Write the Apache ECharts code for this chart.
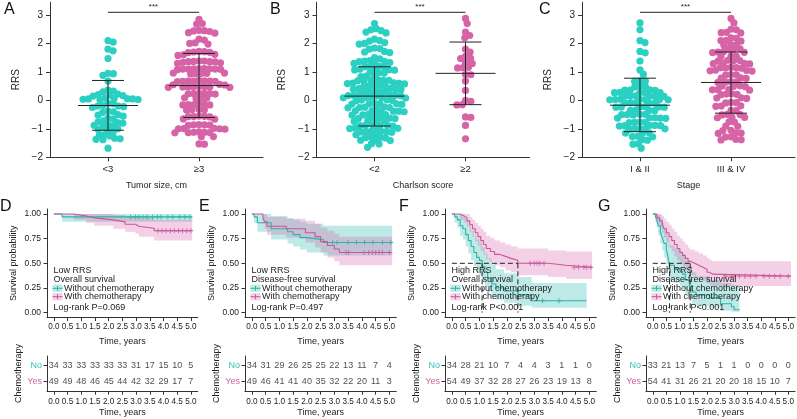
<!DOCTYPE html>
<html><head><meta charset="utf-8">
<script src="https://cdn.jsdelivr.net/npm/echarts@6/dist/echarts.min.js"></script>
<style>html,body{margin:0;padding:0;background:#fff}#c{width:797px;height:419px}</style>
</head><body><div id="c"></div>
<script>
// ================= DATA =================
const rrsTicks = [-2, -1, 0, 1, 2, 3];
const catA = ['<3', '\u22653'];
const catB = ['<2', '\u22652'];
const catC = ['I & II', 'III & IV'];

const A_lt3 = [2.1, 2.05, 1.8, 1.74, 1.47, 0.95, 0.94, 0.88, 0.68, 0.36, 0.33, 0.3, 0.22, 0.2, 0.18, 0.17, 0.15, 0.08, 0.07, 0.06, 0.05, 0.04, 0.03, 0.02, 0.05, -0.1, -0.12, -0.18, -0.2, -0.22, -0.2, -0.25, -0.38, -0.4, -0.42, -0.52, -0.55, -0.5, -0.62, -0.66, -0.72, -0.75, -0.78, -0.8, -0.86, -0.9, -0.92, -0.88, -1.0, -1.05, -1.02, -1.1, -1.2, -1.22, -1.25, -1.35, -1.38, -1.37, -1.33, -1.68];
const A_ge3 = [2.85, 2.7, 2.68, 2.46, 2.45, 2.42, 2.44, 2.38, 2.36, 2.15, 2.12, 2.0, 1.98, 2.02, 1.72, 1.7, 1.68, 1.71, 1.69, 1.58, 1.6, 1.62, 1.38, 1.37, 1.36, 1.35, 1.38, 1.34, 1.36, 1.3, 1.32, 1.12, 1.1, 1.11, 1.09, 1.1, 1.12, 1.08, 1.1, 1.11, 0.96, 0.95, 0.94, 0.95, 0.93, 0.96, 0.68, 0.67, 0.69, 0.66, 0.68, 0.67, 0.7, 0.68, 0.56, 0.55, 0.54, 0.48, 0.47, 0.46, 0.48, 0.47, 0.49, 0.46, 0.47, 0.25, 0.24, 0.23, 0.25, 0.22, 0.24, 0.08, 0.07, 0.09, 0.08, -0.15, -0.14, -0.16, -0.15, -0.13, -0.16, -0.33, -0.32, -0.34, -0.33, -0.57, -0.56, -0.58, -0.57, -0.55, -0.66, -0.65, -0.86, -0.85, -0.87, -0.86, -0.88, -1.0, -0.99, -1.01, -1.0, -0.98, -1.13, -1.12, -1.14, -1.13, -1.11, -1.12, -1.27, -1.28, -1.53, -1.54];
const A_mean = [-0.18, 0.52];
const A_lo = [-1.05, -0.6];
const A_hi = [0.7, 1.65];

const B_lt2 = [2.7, 2.52, 2.48, 2.45, 2.4, 2.37, 2.15, 2.1, 2.08, 2.03, 2.0, 1.98, 1.84, 1.82, 1.8, 1.72, 1.7, 1.68, 1.5, 1.46, 1.4, 1.38, 1.37, 1.36, 1.33, 1.31, 1.3, 1.2, 1.18, 1.17, 1.2, 1.1, 1.08, 1.07, 1.06, 1.09, 0.99, 0.97, 0.96, 0.86, 0.85, 0.84, 0.72, 0.7, 0.69, 0.71, 0.68, 0.7, 0.62, 0.6, 0.59, 0.61, 0.58, 0.52, 0.5, 0.49, 0.51, 0.48, 0.42, 0.4, 0.39, 0.41, 0.38, 0.32, 0.3, 0.29, 0.31, 0.28, 0.2, 0.18, 0.17, 0.19, 0.16, 0.15, 0.18, 0.1, 0.09, 0.11, 0.08, 0.1, 0.01, 0.0, -0.01, 0.02, -0.11, -0.12, -0.13, -0.1, -0.14, -0.12, -0.24, -0.25, -0.26, -0.23, -0.27, -0.25, -0.37, -0.38, -0.39, -0.36, -0.4, -0.38, -0.5, -0.49, -0.51, -0.48, -0.52, -0.62, -0.61, -0.63, -0.6, -0.64, -0.72, -0.71, -0.73, -0.74, -0.88, -0.87, -0.89, -0.86, -0.9, -0.88, -0.98, -0.97, -0.99, -1.0, -1.1, -1.09, -1.11, -1.08, -1.12, -1.1, -1.2, -1.21, -1.3, -1.29, -1.31, -1.32, -1.4, -1.39, -1.41, -1.52, -1.53, -1.65];
const B_ge2 = [2.88, 2.7, 2.4, 2.28, 2.2, 1.8, 1.7, 1.55, 1.48, 1.47, 1.32, 1.3, 1.16, 1.15, 1.14, 0.91, 0.9, 0.68, 0.35, 0.0, -0.03, -0.16, -0.15, -0.6, -0.58, -0.88, -1.35];
const B_mean = [0.15, 0.95];
const B_lo = [-0.9, -0.15];
const B_hi = [1.18, 2.05];

const C_12 = [2.72, 2.48, 2.1, 2.03, 1.72, 1.67, 1.38, 1.07, 0.92, 0.69, 0.68, 0.67, 0.49, 0.48, 0.47, 0.37, 0.36, 0.35, 0.36, 0.28, 0.27, 0.26, 0.27, 0.28, 0.16, 0.15, 0.14, 0.15, 0.16, 0.14, 0.04, 0.03, 0.02, 0.03, 0.04, 0.02, 0.03, -0.08, -0.09, -0.1, -0.09, -0.08, -0.22, -0.23, -0.24, -0.23, -0.22, -0.24, -0.34, -0.35, -0.36, -0.35, -0.49, -0.5, -0.51, -0.5, -0.49, -0.61, -0.62, -0.63, -0.62, -0.61, -0.76, -0.77, -0.78, -0.77, -0.88, -0.89, -0.9, -0.89, -0.88, -0.99, -1.0, -1.01, -1.0, -0.99, -1.14, -1.15, -1.16, -1.26, -1.27, -1.28, -1.38, -1.4, -1.52, -1.54, -1.68];
const C_34 = [2.88, 2.72, 2.5, 2.48, 2.38, 2.37, 2.39, 2.2, 2.18, 2.1, 2.08, 2.11, 1.95, 1.94, 1.96, 1.8, 1.79, 1.81, 1.7, 1.69, 1.71, 1.68, 1.55, 1.54, 1.56, 1.4, 1.39, 1.41, 1.38, 1.3, 1.29, 1.31, 1.28, 1.15, 1.14, 1.16, 1.13, 1.15, 1.05, 1.04, 1.06, 1.03, 0.9, 0.89, 0.91, 0.78, 0.77, 0.79, 0.65, 0.64, 0.66, 0.63, 0.5, 0.49, 0.51, 0.48, 0.38, 0.37, 0.39, 0.36, 0.22, 0.21, 0.23, 0.2, 0.08, 0.07, 0.09, -0.08, -0.07, -0.09, -0.2, -0.21, -0.19, -0.35, -0.36, -0.5, -0.49, -0.51, -0.6, -0.61, -0.59, -0.75, -0.76, -0.9, -0.91, -1.05, -1.06, -1.15, -1.14, -1.16, -1.28, -1.29, -1.38, -1.37, -1.39];
const C_mean = [-0.17, 0.63];
const C_lo = [-1.1, -0.45];
const C_hi = [0.78, 1.7];

// Kaplan-Meier tick labels
const kmTicks = [0, 0.5, 1, 1.5, 2, 2.5, 3, 3.5, 4, 4.5, 5];
const survTicks = [0, 0.25, 0.5, 0.75, 1];

// D: Low RRS, overall survival
const D_no_T = [0, 0.3];
const D_no_S = [1, 0.97];
const D_no_L = [1, 0.92];
const D_no_U = [1, 1];
const D_no_end = 5.05;
const D_no_cens = [2.8, 2.98, 3.1, 3.25, 3.41, 3.6, 3.78, 3.91, 4.16, 4.34, 4.59, 4.78, 4.96];
const D_yes_T = [0, 0.72, 1.18, 1.48, 2.17, 2.6, 2.98, 3.1, 3.66];
const D_yes_S = [1, 0.98, 0.96, 0.94, 0.92, 0.895, 0.875, 0.855, 0.83];
const D_yes_L = [1, 0.94, 0.91, 0.88, 0.85, 0.82, 0.8, 0.77, 0.73];
const D_yes_U = [1, 1, 1, 1, 0.99, 0.98, 0.97, 0.96, 0.94];
const D_yes_end = 5.05;
const D_yes_cens = [3.8, 3.95, 4.1, 4.25, 4.4, 4.55, 4.7, 4.85, 5.0];
const D_risk_no = [34, 33, 33, 33, 33, 33, 31, 17, 15, 10, 5];
const D_risk_yes = [49, 49, 48, 46, 45, 44, 42, 32, 29, 17, 7];

// E: Low RRS, disease-free survival
const E_no_T = [0, 0.08, 0.2, 0.7, 1.3, 1.5, 1.75, 2.0, 2.6];
const E_no_S = [1, 0.97, 0.91, 0.85, 0.82, 0.79, 0.76, 0.74, 0.71];
const E_no_L = [1, 0.91, 0.82, 0.74, 0.7, 0.67, 0.64, 0.61, 0.58];
const E_no_U = [1, 1, 1, 0.98, 0.96, 0.94, 0.92, 0.9, 0.88];
const E_no_end = 5.1;
const E_no_cens = [2.94, 3.1, 3.5, 3.8, 4.1, 4.4, 4.75, 5.05];
const E_yes_T = [0, 0.4, 0.47, 0.55, 1.25, 1.95, 2.3, 2.5, 2.75, 3.0, 3.18];
const E_yes_S = [1, 0.96, 0.92, 0.875, 0.85, 0.81, 0.77, 0.72, 0.68, 0.645, 0.61];
const E_yes_L = [1, 0.9, 0.85, 0.79, 0.76, 0.71, 0.66, 0.61, 0.56, 0.52, 0.48];
const E_yes_U = [1, 1, 1, 0.97, 0.95, 0.93, 0.9, 0.86, 0.83, 0.8, 0.77];
const E_yes_end = 5.1;
const E_yes_cens = [3.42, 3.52, 4.08, 4.25, 4.38, 4.5, 4.62, 4.75, 5.0];
const E_risk_no = [34, 31, 29, 26, 25, 25, 22, 13, 11, 7, 4];
const E_risk_yes = [49, 46, 41, 41, 40, 35, 32, 22, 20, 11, 3];

// F: High RRS, overall survival
const F_no_T = [0, 0.1, 0.2, 0.3, 0.4, 0.5, 0.6, 0.7, 0.8, 0.9, 1.0, 1.1, 1.2, 1.3, 1.45, 1.6, 1.9, 2.4, 2.9];
const F_no_S = [1, 0.97, 0.94, 0.88, 0.85, 0.79, 0.73, 0.67, 0.61, 0.56, 0.53, 0.47, 0.41, 0.35, 0.29, 0.25, 0.22, 0.18, 0.12];
const F_no_L = [1, 0.91, 0.86, 0.78, 0.74, 0.67, 0.6, 0.53, 0.47, 0.41, 0.38, 0.32, 0.26, 0.21, 0.16, 0.13, 0.1, 0.07, 0.05];
const F_no_U = [1, 1, 1, 0.99, 0.97, 0.93, 0.88, 0.83, 0.78, 0.74, 0.71, 0.66, 0.6, 0.55, 0.49, 0.44, 0.4, 0.36, 0.3];
const F_no_end = 4.9;
const F_no_cens = [3.3, 3.9];
const F_yes_T = [0, 0.3, 0.45, 0.55, 0.65, 0.75, 0.85, 0.95, 1.05, 1.15, 1.25, 1.4, 1.55, 1.75, 1.95, 2.15, 2.4, 3.5, 4.15];
const F_yes_S = [1, 0.98, 0.96, 0.93, 0.89, 0.85, 0.81, 0.77, 0.73, 0.69, 0.65, 0.62, 0.59, 0.57, 0.55, 0.53, 0.5, 0.48, 0.46];
const F_yes_L = [1, 0.94, 0.91, 0.87, 0.82, 0.77, 0.72, 0.68, 0.63, 0.59, 0.54, 0.51, 0.48, 0.46, 0.43, 0.41, 0.38, 0.36, 0.34];
const F_yes_U = [1, 1, 1, 1, 0.97, 0.94, 0.91, 0.88, 0.85, 0.82, 0.78, 0.76, 0.73, 0.71, 0.69, 0.67, 0.65, 0.63, 0.62];
const F_yes_end = 5.1;
const F_yes_cens = [2.85, 3.0, 3.1, 3.2, 3.35, 4.45, 4.6, 4.8, 4.9, 5.05];
const F_risk_no = [34, 28, 21, 10, 7, 4, 4, 3, 1, 1, 0];
const F_risk_yes = [54, 49, 37, 32, 28, 27, 26, 23, 19, 13, 8];

// G: High RRS, disease-free survival
const G_no_T = [0, 0.1, 0.15, 0.2, 0.28, 0.35, 0.42, 0.5, 0.55, 0.62, 0.8, 1.0, 1.1, 1.2, 1.35, 1.45, 1.6, 2.1, 2.5, 2.9, 3.0];
const G_no_S = [1, 0.97, 0.94, 0.88, 0.82, 0.76, 0.7, 0.64, 0.58, 0.48, 0.45, 0.42, 0.39, 0.33, 0.27, 0.21, 0.18, 0.15, 0.09, 0.06, 0.03];
const G_no_L = [1, 0.91, 0.86, 0.78, 0.7, 0.63, 0.56, 0.49, 0.43, 0.33, 0.3, 0.27, 0.24, 0.19, 0.14, 0.09, 0.07, 0.05, 0.02, 0.01, 0.01];
const G_no_U = [1, 1, 1, 0.99, 0.96, 0.91, 0.86, 0.81, 0.76, 0.68, 0.65, 0.62, 0.59, 0.53, 0.47, 0.41, 0.37, 0.33, 0.3, 0.28, 0.28];
const G_no_end = 3.2;
const G_no_cens = [];
const G_yes_T = [0, 0.15, 0.25, 0.35, 0.42, 0.5, 0.6, 0.7, 0.8, 0.9, 1.0, 1.1, 1.2, 1.3, 1.38, 1.55, 1.7, 1.85, 2.0, 2.1, 2.2];
const G_yes_S = [1, 0.96, 0.93, 0.89, 0.85, 0.81, 0.77, 0.73, 0.69, 0.65, 0.61, 0.58, 0.55, 0.52, 0.5, 0.48, 0.46, 0.44, 0.41, 0.39, 0.37];
const G_yes_L = [1, 0.9, 0.86, 0.81, 0.76, 0.71, 0.66, 0.62, 0.57, 0.53, 0.49, 0.46, 0.43, 0.4, 0.38, 0.36, 0.34, 0.32, 0.3, 0.28, 0.27];
const G_yes_U = [1, 1, 1, 0.98, 0.95, 0.92, 0.89, 0.85, 0.82, 0.78, 0.75, 0.72, 0.69, 0.66, 0.64, 0.62, 0.6, 0.58, 0.55, 0.53, 0.52];
const G_yes_end = 5.1;
const G_yes_cens = [2.7, 2.9, 3.0, 3.2, 3.4, 3.6, 3.8, 4.1, 4.3, 4.5, 4.7, 5.0];
const G_risk_no = [33, 21, 13, 7, 5, 1, 1, 0, 0, 0, 0];
const G_risk_yes = [54, 41, 31, 26, 21, 20, 20, 18, 15, 10, 7];

// ================= STYLE =================
const FONT = 'Liberation Sans, Arial, Helvetica, sans-serif';
const TX = '#222', AX = '#333';
const TEAL_DOT = '#2ad0c2', PINK_DOT = '#d763a7';
const TEAL_LINE = '#2bb3a8', PINK_LINE = '#c8579b';
const TEAL_FILL = 'rgba(50,190,180,0.32)', PINK_FILL = 'rgba(214,100,168,0.30)';
const TEAL_TXT = '#35c4b7', PINK_TXT = '#d262a5';

// ================= HELPERS =================
function swarmOffsets(vals, pxY, d) {
  const idx = vals.map((v, i) => i).sort((a, b) => vals[b] - vals[a]);
  const placed = []; const off = new Array(vals.length).fill(0);
  for (const i of idx) {
    const y = vals[i] * pxY;
    const near = placed.filter(p => Math.abs(p.y - y) < d);
    const cands = [0];
    near.forEach(p => { const dx = Math.sqrt(d * d - (p.y - y) ** 2); cands.push(p.x + dx, p.x - dx); });
    cands.sort((a, b) => Math.abs(a) - Math.abs(b));
    let best = 0;
    for (const c of cands) {
      if (near.every(p => (c - p.x) ** 2 + (p.y - y) ** 2 >= d * d - 0.01)) { best = c; break; }
    }
    placed.push({ x: best, y }); off[i] = best;
  }
  return off;
}
function survAt(T, S, t) { let v = S[0]; for (let i = 0; i < T.length; i++) if (T[i] <= t) v = S[i]; return v; }
function medianOf(T, S) { for (let i = 0; i < T.length; i++) if (S[i] <= 0.5) return T[i]; return null; }

const option = {
  animation: false, backgroundColor: '#fff',
  textStyle: { fontFamily: FONT },
  grid: [], xAxis: [], yAxis: [], series: [], graphic: []
};
function axisCommon() {
  return {
    axisLine: { show: true, onZero: false, lineStyle: { color: AX, width: 1 } },
    splitLine: { show: false }
  };
}

// ================= TOP PANELS =================
const topPanels = [
  { left: 50, letter: 'A', lx: 4, cats: catA, g1: A_lt3, g2: A_ge3, mean: A_mean, lo: A_lo, hi: A_hi, xname: 'Tumor size, cm' },
  { left: 316.5, letter: 'B', lx: 270, cats: catB, g1: B_lt2, g2: B_ge2, mean: B_mean, lo: B_lo, hi: B_hi, xname: 'Charlson score' },
  { left: 582, letter: 'C', lx: 539, cats: catC, g1: C_12, g2: C_34, mean: C_mean, lo: C_lo, hi: C_hi, xname: 'Stage' }
];
const TOP = 2.2, TH = 155.1, TW = 213, XMIN = 0.363, XMAX = 2.703, YMIN = -2, YMAX = 3.45;
const pxY = TH / (YMAX - YMIN), pxX = TW / (XMAX - XMIN);

topPanels.forEach((p, i) => {
  option.grid.push({ left: p.left, top: TOP, width: TW, height: TH });
  option.xAxis.push(Object.assign(axisCommon(), {
    gridIndex: i, type: 'value', min: XMIN, max: XMAX,
    axisTick: { show: true, customValues: [1, 2], length: 4, lineStyle: { color: AX } },
    axisLabel: { customValues: [1, 2], formatter: v => p.cats[Math.round(v) - 1], fontSize: 9.5, color: TX, margin: 7 },
    name: p.xname, nameLocation: 'middle', nameGap: 24, nameTextStyle: { fontSize: 9, color: TX }
  }));
  option.yAxis.push(Object.assign(axisCommon(), {
    gridIndex: i, type: 'value', min: YMIN, max: YMAX,
    axisTick: { show: true, customValues: rrsTicks, length: 4, lineStyle: { color: AX } },
    axisLabel: { customValues: rrsTicks, formatter: v => (v < 0 ? '\u2212' : '') + Math.abs(v), fontSize: 10, color: TX, margin: 7 },
    name: 'RRS', nameLocation: 'middle', nameGap: 29, nameTextStyle: { fontSize: 10, color: TX }
  }));
  [p.g1, p.g2].forEach((vals, k) => {
    const off = swarmOffsets(vals, pxY, 5.4);
    option.series.push({
      type: 'scatter', xAxisIndex: i, yAxisIndex: i, symbolSize: 7.2, silent: true, z: 2,
      itemStyle: { color: k ? PINK_DOT : TEAL_DOT, opacity: 1 },
      data: vals.map((v, j) => [k + 1 + off[j] / pxX, v])
    });
  });
  option.series.push({
    type: 'custom', xAxisIndex: i, yAxisIndex: i, z: 5, silent: true,
    data: [0, 1].map(k => [k + 1, p.mean[k], p.lo[k], p.hi[k]]),
    renderItem: (params, api) => {
      const x = api.value(0);
      const pm = api.coord([x, api.value(1)]), pl = api.coord([x, api.value(2)]), ph = api.coord([x, api.value(3)]);
      const st = { stroke: '#222', lineWidth: 1 };
      return { type: 'group', children: [
        { type: 'line', shape: { x1: pm[0] - 30, y1: pm[1], x2: pm[0] + 30, y2: pm[1] }, style: st },
        { type: 'line', shape: { x1: pl[0], y1: pl[1], x2: ph[0], y2: ph[1] }, style: st },
        { type: 'line', shape: { x1: pl[0] - 16, y1: pl[1], x2: pl[0] + 16, y2: pl[1] }, style: st },
        { type: 'line', shape: { x1: ph[0] - 16, y1: ph[1], x2: ph[0] + 16, y2: ph[1] }, style: st }
      ] };
    }
  });
  option.series.push({
    type: 'custom', xAxisIndex: i, yAxisIndex: i, z: 5, silent: true,
    data: [[1, 2]],
    renderItem: (params, api) => {
      const a = api.coord([api.value(0), 3.095]), b = api.coord([api.value(1), 3.095]);
      return { type: 'group', children: [
        { type: 'line', shape: { x1: a[0], y1: a[1], x2: b[0], y2: b[1] }, style: { stroke: '#222', lineWidth: 1 } },
        { type: 'text', x: (a[0] + b[0]) / 2, y: a[1] - 2, style: { text: '***', textAlign: 'center', textVerticalAlign: 'bottom', fontSize: 8, fill: '#222', fontFamily: FONT } }
      ] };
    }
  });
  option.graphic.push({ type: 'text', x: p.lx, y: 2, style: { text: p.letter, fontSize: 16, fontFamily: FONT, fill: '#111', textAlign: 'left', textVerticalAlign: 'top' } });
});

// ================= KM PANELS =================
const kmPanels = [
  { letter: 'D', lx: 0, left: 47, unit: 27.4, t1: 'Low RRS', t2: 'Overall survival', pv: 'Log-rank P=0.069',
    no: [D_no_T, D_no_S, D_no_L, D_no_U, D_no_end, D_no_cens], yes: [D_yes_T, D_yes_S, D_yes_L, D_yes_U, D_yes_end, D_yes_cens],
    rNo: D_risk_no, rYes: D_risk_yes, med: false },
  { letter: 'E', lx: 199, left: 245, unit: 27.5, t1: 'Low RRS', t2: 'Disease-free survival', pv: 'Log-rank P=0.497',
    no: [E_no_T, E_no_S, E_no_L, E_no_U, E_no_end, E_no_cens], yes: [E_yes_T, E_yes_S, E_yes_L, E_yes_U, E_yes_end, E_yes_cens],
    rNo: E_risk_no, rYes: E_risk_yes, med: false },
  { letter: 'F', lx: 399, left: 445, unit: 27.5, t1: 'High RRS', t2: 'Overall survival', pv: 'Log-rank P<0.001',
    no: [F_no_T, F_no_S, F_no_L, F_no_U, F_no_end, F_no_cens], yes: [F_yes_T, F_yes_S, F_yes_L, F_yes_U, F_yes_end, F_yes_cens],
    rNo: F_risk_no, rYes: F_risk_yes, med: true },
  { letter: 'G', lx: 598, left: 646, unit: 27.5, t1: 'High RRS', t2: 'Disease-free survival', pv: 'Log-rank P<0.001',
    no: [G_no_T, G_no_S, G_no_L, G_no_U, G_no_end, G_no_cens], yes: [G_yes_T, G_yes_S, G_yes_L, G_yes_U, G_yes_end, G_yes_cens],
    rNo: G_risk_no, rYes: G_risk_yes, med: true }
];
const KTOP = 209, KH = 108.6, RTOP = 356, RH = 35.2, FS = 9, TFS = 8.2;
const plusSym = 'path://M4,0h2v10h-2z M0,4h10v2h-10z';

kmPanels.forEach((p, j) => {
  const gi = 3 + j, ri = 7 + j;
  const W = 5.5 * p.unit;
  option.grid[gi] = { left: p.left, top: KTOP, width: W, height: KH };
  option.grid[ri] = { left: p.left, top: RTOP, width: W, height: RH };
  const xAx = (idx, gap, margin) => Object.assign(axisCommon(), {
    gridIndex: idx, type: 'value', min: -0.25, max: 5.25,
    axisTick: { show: true, customValues: kmTicks, length: 3.5, lineStyle: { color: AX } },
    axisLabel: { customValues: kmTicks, formatter: v => v.toFixed(1), fontSize: TFS, color: TX, margin: margin },
    name: 'Time, years', nameLocation: 'middle', nameGap: gap, nameTextStyle: { fontSize: FS, color: TX }
  });
  option.xAxis[gi] = xAx(gi, 19, 5.5);
  option.xAxis[ri] = xAx(ri, 17, 7);
  option.yAxis[gi] = Object.assign(axisCommon(), {
    gridIndex: gi, type: 'value', min: -0.05, max: 1.05,
    axisTick: { show: true, customValues: survTicks, length: 3.5, lineStyle: { color: AX } },
    axisLabel: { customValues: survTicks, formatter: v => v.toFixed(2), fontSize: TFS + 0.3, color: TX, margin: 6 },
    name: 'Survival probability', nameLocation: 'middle', nameGap: 29, nameTextStyle: { fontSize: FS, color: TX }
  });
  option.yAxis[ri] = Object.assign(axisCommon(), {
    gridIndex: ri, type: 'value', min: 0.4, max: 2.6,
    axisTick: { show: true, customValues: [1, 2], length: 3.5, lineStyle: { color: AX } },
    axisLabel: { customValues: [1, 2], formatter: v => v === 2 ? '{no|No}' : '{yes|Yes}', margin: 5,
      rich: { no: { color: TEAL_TXT, fontSize: FS }, yes: { color: PINK_TXT, fontSize: FS } } },
    name: 'Chemotherapy', nameLocation: 'middle', nameGap: 18, nameTextStyle: { fontSize: FS, color: TX }
  });

  [[p.no, TEAL_LINE, TEAL_FILL], [p.yes, PINK_LINE, PINK_FILL]].forEach(([c, lc, fc]) => {
    const [T, S, L, U, end, cens] = c;
    option.series.push({
      type: 'custom', xAxisIndex: gi, yAxisIndex: gi, z: 1, silent: true, data: [[T[0], S[0]]],
      renderItem: (params, api) => {
        const pts = [], n = T.length;
        for (let i = 0; i < n; i++) { const t1 = i < n - 1 ? T[i + 1] : end; pts.push(api.coord([T[i], U[i]]), api.coord([t1, U[i]])); }
        for (let i = n - 1; i >= 0; i--) { const t1 = i < n - 1 ? T[i + 1] : end; pts.push(api.coord([t1, L[i]]), api.coord([T[i], L[i]])); }
        return { type: 'polygon', shape: { points: pts }, style: { fill: fc } };
      }
    });
    option.series.push({
      type: 'line', xAxisIndex: gi, yAxisIndex: gi, step: 'end', symbol: 'none', z: 3, silent: true,
      lineStyle: { color: lc, width: 1.1 },
      data: T.map((t, i) => [t, S[i]]).concat([[end, S[S.length - 1]]])
    });
    if (cens.length) option.series.push({
      type: 'scatter', xAxisIndex: gi, yAxisIndex: gi, symbol: plusSym, symbolSize: 5, z: 4, silent: true,
      itemStyle: { color: lc }, data: cens.map(t => [t, survAt(T, S, t)])
    });
  });

  if (p.med) {
    const m1 = medianOf(p.no[0], p.no[1]), m2 = medianOf(p.yes[0], p.yes[1]);
    option.series.push({
      type: 'custom', xAxisIndex: gi, yAxisIndex: gi, z: 4, silent: true, data: [[m1, m2]],
      renderItem: (params, api) => {
        const a = api.value(0), b = api.value(1);
        const st = { stroke: '#222', lineWidth: 1, lineDash: [5, 3] };
        const o = api.coord([0, 0.5]), e = api.coord([Math.max(a, b), 0.5]);
        const ch = [{ type: 'line', shape: { x1: o[0], y1: o[1], x2: e[0], y2: e[1] }, style: st }];
        [a, b].forEach(m => { const t = api.coord([m, 0.5]), d = api.coord([m, 0]); ch.push({ type: 'line', shape: { x1: t[0], y1: t[1], x2: d[0], y2: d[1] }, style: st }); });
        return { type: 'group', children: ch };
      }
    });
  }

  [[p.rNo, 2], [p.rYes, 1]].forEach(([arr, row]) => {
    option.series.push({
      type: 'scatter', xAxisIndex: ri, yAxisIndex: ri, symbolSize: 1, silent: true,
      itemStyle: { color: 'rgba(0,0,0,0)' },
      label: { show: true, position: 'inside', formatter: q => '' + q.value[2], fontSize: FS, color: TX },
      data: kmTicks.map((t, k) => [t, row, arr[k]])
    });
  });

  // panel letter, in-plot annotation and legend keys
  const L0 = p.left;
  const txt = (x, y, s) => ({ type: 'text', x: x, y: y, z: 100, style: { text: s, fontSize: FS, fontFamily: FONT, fill: TX, textAlign: 'left', textVerticalAlign: 'middle' } });
  option.graphic.push({ type: 'text', x: p.lx, y: 199, style: { text: p.letter, fontSize: 16, fontFamily: FONT, fill: '#111', textAlign: 'left', textVerticalAlign: 'top' } });
  option.graphic.push(txt(L0 + 6.5, 270.7, p.t1), txt(L0 + 6.5, 279.2, p.t2), txt(L0 + 17, 288.3, 'Without chemotherapy'), txt(L0 + 17, 296.7, 'With chemotherapy'), txt(L0 + 6.5, 307.3, p.pv));
  [[288.3, TEAL_FILL, TEAL_LINE], [296.7, PINK_FILL, PINK_LINE]].forEach(([y, f, l]) => {
    option.graphic.push({ type: 'rect', z: 100, shape: { x: L0 + 5.5, y: y - 3.6, width: 10, height: 7.2 }, style: { fill: f } });
    option.graphic.push({ type: 'line', z: 101, shape: { x1: L0 + 5.5, y1: y, x2: L0 + 15.5, y2: y }, style: { stroke: l, lineWidth: 1 } });
    option.graphic.push({ type: 'line', z: 101, shape: { x1: L0 + 10.5, y1: y - 2.5, x2: L0 + 10.5, y2: y + 2.5 }, style: { stroke: l, lineWidth: 1 } });
  });
});

const chart = echarts.init(document.getElementById('c'), null, { renderer: 'canvas' });
chart.setOption(option);
</script>
</body></html>
